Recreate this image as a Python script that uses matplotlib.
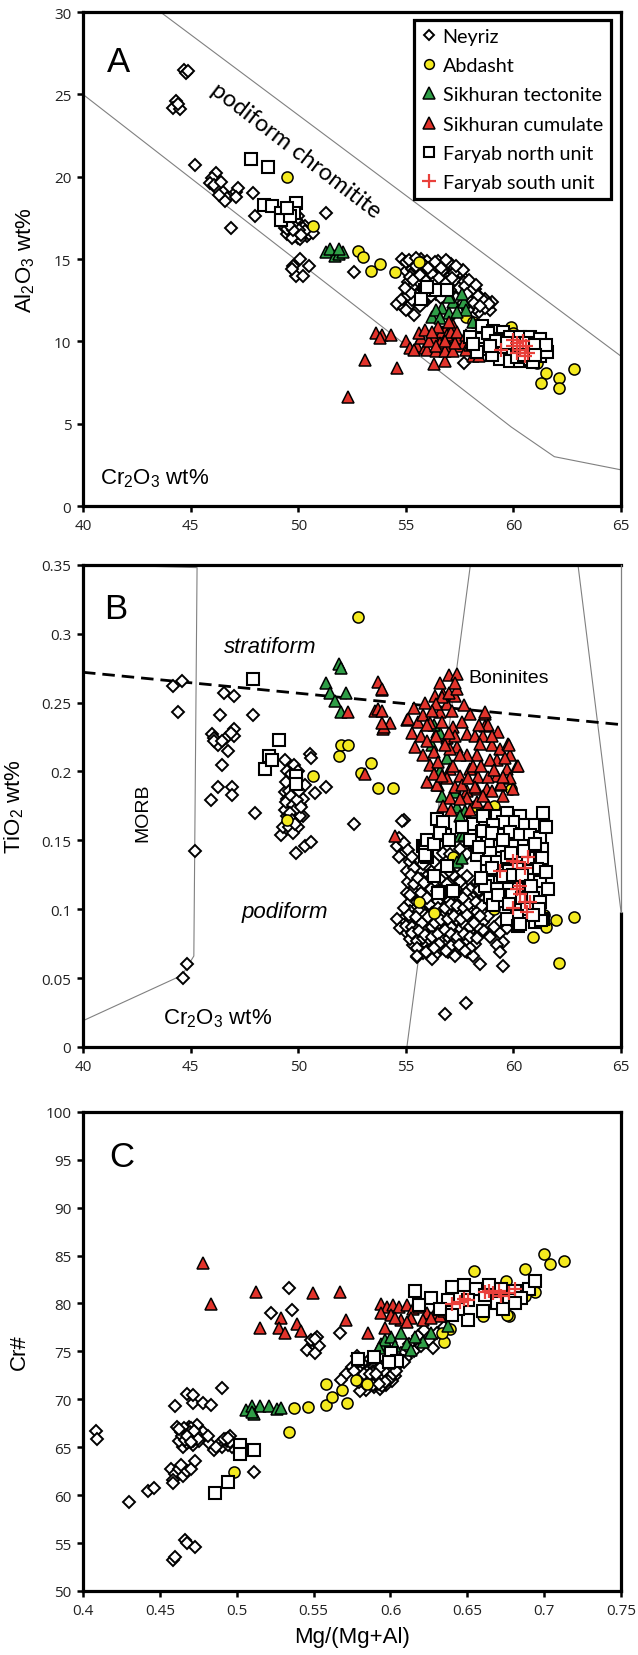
import matplotlib
matplotlib.use("Agg")
import matplotlib.pyplot as plt
from matplotlib.lines import Line2D

# ---------------------------------------------------------------- data
# Panel A: Cr2O3 (wt%) vs Al2O3 (wt%)
A_NEYRIZ = [
    (44.7, 26.5), (44.8, 26.3), (44.9, 26.4), (44.3, 24.6), (44.2, 24.2), (44.5, 24.1), (44.4, 24.4),
    (45.2, 20.7), (46.2, 20.2), (46.0, 19.9), (45.9, 19.6), (46.2, 19.3), (46.5, 19.1), (46.7, 18.7),
    (47.1, 19.1), (47.2, 19.3), (46.6, 18.5), (46.3, 18.9), (47.1, 18.8), (46.1, 19.5), (46.4, 19.7),
    (46.9, 16.9), (47.9, 19.0), (48.0, 17.6),
    (49.3, 17.4), (49.5, 17.2), (49.7, 17.0), (49.9, 16.8), (50.1, 17.1), (49.6, 16.6), (49.8, 16.4),
    (50.0, 16.3), (50.2, 16.6), (49.4, 16.9), (50.3, 17.0), (49.7, 17.5), (50.0, 17.6), (49.5, 16.5),
    (50.4, 16.4), (50.1, 16.2), (50.5, 16.5), (50.7, 16.6), (51.3, 17.8),
    (49.4, 17.2), (49.6, 17.3), (49.8, 17.2), (50.0, 17.0), (49.6, 16.9), (49.8, 16.7), (50.0, 16.6),
    (49.5, 16.8), (50.2, 16.9), (49.9, 17.4), (50.3, 16.7), (49.7, 16.3), (49.65, 17.15),
    (49.85, 16.95), (50.05, 16.75), (49.75, 16.75), (50.15, 16.45), (49.55, 17.05),
    (49.75, 14.6), (49.9, 14.0), (50.1, 15.0), (50.2, 14.0), (50.5, 14.6), (49.7, 14.4), (52.6, 14.2),
    (54.8, 15.0), (55.2, 14.6), (55.5, 14.8), (55.8, 14.5), (56.1, 14.7), (56.4, 14.4), (56.7, 14.6),
    (57.0, 14.3), (55.3, 14.1), (55.6, 13.9), (55.9, 14.2), (56.2, 13.9), (56.5, 14.0), (56.8, 13.8),
    (57.1, 13.6), (57.4, 13.9), (55.1, 13.6), (55.4, 13.4), (56.0, 13.5), (56.6, 13.4), (57.2, 13.2),
    (57.5, 13.3), (57.8, 13.1), (58.1, 12.8), (57.6, 12.7), (58.0, 12.3), (58.3, 12.5), (58.6, 12.2),
    (58.9, 11.9), (59.0, 12.4), (58.4, 11.8), (57.9, 13.5), (56.3, 13.7), (55.0, 14.3), (54.6, 12.3),
    (54.9, 12.0), (55.2, 12.2), (55.4, 11.6), (55.0, 11.9), (56.0, 12.5), (55.5, 12.8), (54.8, 12.6),
    (56.9, 14.1), (57.3, 14.4), (55.7, 15.0), (56.0, 14.9), (56.5, 14.9), (57.6, 14.0), (58.2, 13.2),
    (57.7, 12.2), (55.3, 14.4), (55.7, 14.2), (56.2, 14.3), (56.6, 14.2), (57.0, 13.9), (57.4, 13.5),
    (55.8, 13.8), (56.4, 13.6), (57.1, 13.0), (57.9, 12.6), (58.7, 12.6),
    (55.0, 14.8), (55.4, 14.3), (55.9, 14.6), (56.3, 14.6), (56.7, 14.3), (57.1, 14.7), (55.2, 13.9),
    (55.6, 13.6), (56.1, 13.8), (56.5, 13.7), (57.0, 13.4), (57.3, 13.7), (57.7, 13.6), (58.0, 13.3),
    (57.6, 13.0), (58.3, 12.9), (57.3, 12.9), (58.5, 12.4), (58.7, 12.0), (58.2, 12.0), (57.9, 11.9),
    (56.4, 12.9), (55.8, 12.4), (55.3, 12.5), (55.1, 12.8), (56.9, 13.6), (56.2, 14.1), (55.5, 14.4),
    (57.5, 14.2), (56.8, 12.8),
    (55.15, 14.95), (55.45, 14.55), (55.75, 14.75), (56.05, 14.45), (56.35, 14.85), (56.65, 14.45),
    (56.95, 14.85), (57.25, 14.15), (55.35, 13.75), (55.65, 14.05), (55.95, 13.65), (56.25, 13.55),
    (56.55, 13.85), (56.85, 13.55), (57.15, 13.85), (57.45, 13.25), (57.75, 13.35), (58.05, 13.05),
    (58.35, 12.75), (58.65, 12.45), (58.85, 12.25), (57.85, 12.85), (57.55, 12.45), (58.15, 12.35),
    (58.45, 12.15), (57.35, 12.65), (56.65, 12.65), (56.15, 12.75), (55.65, 12.15), (55.25, 12.95),
    (54.95, 13.25), (55.85, 13.15), (57.05, 13.15), (56.75, 13.15), (57.95, 13.75), (58.25, 13.45),
    (57.65, 14.35), (57.35, 14.55), (56.85, 14.95), (55.45, 15.05), (57.7, 8.7),
]
A_ABDASHT = [
    (49.5, 20.0), (50.7, 17.0), (52.8, 15.5), (53.0, 15.1), (53.4, 14.3), (53.8, 14.7), (54.5, 14.2),
    (55.6, 14.8), (57.8, 11.5), (58.1, 11.2), (59.9, 10.9), (60.0, 10.5), (61.1, 8.7), (61.5, 8.1),
    (62.1, 7.8), (61.3, 7.5), (62.1, 7.2), (62.8, 8.3), (60.5, 10.3), (61.2, 9.9),
]
A_TECTONITE = [
    (51.3, 15.4), (51.7, 15.2), (51.9, 15.3), (52.1, 15.4), (51.5, 15.6), (51.9, 15.6),
    (56.2, 11.5), (56.7, 12.0), (57.2, 12.4), (57.7, 12.4), (57.8, 11.9), (58.1, 11.2), (56.4, 11.9),
    (57.0, 11.7), (57.4, 11.8), (57.6, 12.9), (56.6, 11.4), (57.0, 12.7),
]
A_CUMULATE = [
    (52.3, 6.6), (53.1, 8.9), (54.6, 8.4), (56.3, 8.6), (56.8, 8.8), (53.6, 10.5), (53.9, 10.4),
    (54.3, 10.4), (53.8, 10.2), (55.0, 10.0), (55.5, 9.7), (55.9, 9.6), (55.7, 10.2), (56.3, 10.2),
    (56.7, 10.6), (56.9, 10.9), (57.2, 11.0), (56.6, 9.9), (57.0, 9.7), (57.5, 9.7), (57.4, 10.2),
    (57.7, 9.9), (55.2, 9.6), (55.4, 9.5), (56.0, 9.5), (56.4, 9.4), (56.8, 9.4), (57.2, 9.4),
    (57.8, 9.5), (58.1, 9.1), (58.4, 9.1), (56.9, 10.4), (57.1, 10.6), (56.5, 10.9), (57.0, 11.2),
    (55.6, 10.5), (55.9, 10.7), (56.1, 10.0), (56.4, 9.7), (56.8, 10.0), (57.3, 9.9), (56.2, 10.6),
    (57.4, 10.6), (57.8, 10.4), (58.0, 9.8),
]
A_NORTH = [
    (47.8, 21.1), (48.6, 20.6), (48.4, 18.3), (48.8, 18.2), (49.2, 17.8), (49.9, 18.4), (49.8, 17.8),
    (49.2, 17.4), (49.6, 17.6), (49.5, 18.1), (55.9, 13.1), (56.4, 13.1), (56.9, 13.1), (55.7, 12.6),
    (56.0, 13.3), (58.52, 10.95), (59.07, 10.65), (59.53, 10.55), (58.45, 10.14), (58.91, 10.14),
    (59.38, 10.14), (59.84, 10.24), (60.31, 10.24), (60.77, 10.24), (61.24, 10.14), (58.6, 9.54),
    (59.07, 9.54), (59.53, 9.64), (60.0, 9.54), (60.46, 9.54), (60.93, 9.54), (61.39, 9.54),
    (59.38, 8.93), (59.84, 8.83), (60.31, 8.83), (60.77, 8.93), (61.24, 9.13), (61.55, 9.33),
    (58.29, 9.33), (57.98, 10.24), (58.14, 9.84), (60.15, 9.03), (60.93, 8.73),
    (58.8, 10.5), (59.2, 10.0), (59.7, 9.9), (60.2, 9.9), (60.6, 9.9), (61.0, 9.8), (61.5, 9.8),
    (59.0, 9.2), (60.5, 9.2), (61.0, 9.2), (58.9, 9.7),
]
A_SOUTH = [
    (59.4, 9.5), (60.0, 9.7), (60.15, 9.9), (60.3, 9.5), (60.45, 10.0), (60.6, 9.7), (60.7, 9.3),
    (60.15, 9.3), (60.0, 10.1), (60.55, 9.1),
]

# Panel B: Cr2O3 (wt%) vs TiO2 (wt%)
B_NEYRIZ = [
    (44.2, 0.262), (44.6, 0.266), (44.4, 0.243), (45.2, 0.142), (44.85, 0.060), (44.65, 0.050),
    (46.56, 0.257), (47.03, 0.255), (46.37, 0.241), (47.03, 0.231), (47.89, 0.241), (45.99, 0.227),
    (46.08, 0.224), (46.27, 0.219), (46.65, 0.224), (46.75, 0.215), (47.03, 0.226), (46.46, 0.205),
    (46.27, 0.189), (46.94, 0.189), (45.95, 0.179), (46.94, 0.183), (47.98, 0.170), (46.08, 0.222),
    (46.46, 0.222), (46.9, 0.228),
    (49.4, 0.208), (50.55, 0.213), (50.6, 0.210), (51.3, 0.189), (50.8, 0.184), (50.1, 0.176),
    (50.2, 0.168), (49.2, 0.154), (49.8, 0.158), (49.9, 0.141), (50.3, 0.146), (50.6, 0.149),
    (49.4, 0.185), (49.5, 0.180), (49.6, 0.175), (49.7, 0.170), (49.8, 0.178), (49.9, 0.183),
    (49.5, 0.168), (49.7, 0.188), (49.8, 0.165), (50.0, 0.175), (49.6, 0.192), (49.9, 0.195),
    (49.5, 0.200), (50.1, 0.168), (49.7, 0.160), (50.2, 0.180), (49.4, 0.172), (50.0, 0.160),
    (49.8, 0.205), (50.3, 0.190), (49.3, 0.160),
    (49.45, 0.178), (49.55, 0.186), (49.65, 0.182), (49.75, 0.176), (49.85, 0.172), (49.95, 0.179),
    (49.6, 0.170), (49.7, 0.165), (49.55, 0.160), (49.9, 0.188), (49.8, 0.192), (50.05, 0.186),
    (50.15, 0.174), (49.65, 0.198), (49.45, 0.192), (49.75, 0.155), (50.0, 0.200), (49.85, 0.162),
    (52.6, 0.162), (54.9, 0.165),
    (54.81, 0.164), (54.57, 0.146), (54.88, 0.140), (55.19, 0.134), (55.04, 0.128), (55.35, 0.124),
    (55.66, 0.128), (55.97, 0.124), (56.2, 0.128), (56.74, 0.141), (57.05, 0.140), (57.52, 0.144),
    (57.83, 0.140), (55.35, 0.115), (55.66, 0.117), (55.97, 0.115), (56.28, 0.110), (56.74, 0.115),
    (57.05, 0.120), (57.36, 0.122), (57.67, 0.117), (57.98, 0.115), (58.29, 0.120), (55.19, 0.105),
    (55.5, 0.105), (55.81, 0.105), (56.12, 0.103), (56.9, 0.108), (57.21, 0.110), (57.52, 0.108),
    (57.83, 0.105), (58.14, 0.103), (58.45, 0.110), (58.76, 0.103), (54.88, 0.093), (55.19, 0.093),
    (55.5, 0.091), (55.81, 0.093), (56.12, 0.091), (56.43, 0.093), (56.74, 0.095), (57.05, 0.098),
    (57.36, 0.098), (57.67, 0.095), (57.98, 0.093), (58.29, 0.093), (58.6, 0.091), (54.73, 0.086),
    (55.04, 0.083), (55.35, 0.081), (55.66, 0.081), (55.97, 0.083), (56.28, 0.083), (56.59, 0.086),
    (56.9, 0.083), (57.21, 0.083), (57.52, 0.086), (57.83, 0.083), (58.14, 0.081), (58.45, 0.083),
    (55.35, 0.074), (55.66, 0.071), (55.97, 0.074), (56.43, 0.068), (56.97, 0.069), (57.52, 0.071),
    (57.83, 0.069), (58.14, 0.066), (55.5, 0.065), (59.38, 0.083), (59.53, 0.076), (59.22, 0.074),
    (59.38, 0.069), (59.69, 0.086), (59.38, 0.091), (58.45, 0.060), (59.53, 0.059), (55.04, 0.112),
    (56.43, 0.100), (57.83, 0.124), (54.57, 0.093), (55.8, 0.098), (56.5, 0.106), (57.2, 0.090),
    (58.0, 0.098), (56.0, 0.087), (56.9, 0.077), (57.6, 0.078), (55.2, 0.099), (58.6, 0.085),
    (55.1, 0.120), (55.4, 0.118), (55.7, 0.112), (56.0, 0.108), (56.3, 0.118), (56.6, 0.122),
    (56.9, 0.118), (57.2, 0.125), (57.5, 0.120), (57.8, 0.112), (58.1, 0.108), (58.4, 0.114),
    (58.7, 0.108), (55.2, 0.110), (55.6, 0.099), (55.9, 0.096), (56.2, 0.097), (56.5, 0.101),
    (56.8, 0.101), (57.1, 0.104), (57.4, 0.102), (57.7, 0.101), (58.0, 0.107), (58.3, 0.098),
    (58.6, 0.097), (55.0, 0.088), (55.3, 0.087), (55.6, 0.086), (55.9, 0.088), (56.2, 0.087),
    (56.5, 0.089), (56.8, 0.089), (57.1, 0.087), (57.4, 0.092), (57.7, 0.089), (58.0, 0.087),
    (58.3, 0.088), (55.2, 0.078), (55.5, 0.077), (55.8, 0.079), (56.1, 0.078), (56.4, 0.077),
    (56.7, 0.080), (57.0, 0.079), (57.3, 0.077), (57.6, 0.073), (57.9, 0.077), (58.2, 0.075),
    (56.0, 0.070), (56.6, 0.072), (57.1, 0.073), (55.8, 0.068), (56.2, 0.064), (57.3, 0.066),
    (58.0, 0.072), (54.9, 0.101), (55.4, 0.130), (55.8, 0.133), (56.5, 0.131), (57.0, 0.128),
    (57.4, 0.131), (56.1, 0.121), (55.7, 0.122), (58.8, 0.095), (58.9, 0.080), (59.1, 0.087),
    (54.7, 0.138), (54.7, 0.152), (54.9, 0.148), (55.1, 0.143), (55.3, 0.138), (56.3, 0.134),
    (56.0, 0.138),
    (55.25, 0.125), (55.55, 0.123), (55.85, 0.119), (56.15, 0.115), (56.45, 0.113), (56.75, 0.110),
    (57.05, 0.113), (57.35, 0.115), (57.65, 0.108), (57.95, 0.104), (58.25, 0.105), (58.55, 0.102),
    (55.15, 0.096), (55.45, 0.094), (55.75, 0.090), (56.05, 0.094), (56.35, 0.090), (56.65, 0.092),
    (56.95, 0.093), (57.25, 0.095), (57.55, 0.093), (57.85, 0.096), (58.15, 0.090), (58.45, 0.095),
    (55.3, 0.083), (55.6, 0.084), (55.9, 0.081), (56.2, 0.080), (56.5, 0.082), (56.8, 0.085),
    (57.1, 0.082), (57.4, 0.080), (57.7, 0.082), (58.0, 0.080), (58.3, 0.079), (55.5, 0.072),
    (55.95, 0.069), (56.55, 0.075), (56.85, 0.070), (57.45, 0.074), (57.75, 0.070), (56.3, 0.072),
    (55.5, 0.066), (56.8, 0.024), (57.8, 0.032),
]
B_ABDASHT = [
    (52.8, 0.312), (52.0, 0.219), (52.3, 0.219), (51.9, 0.211), (53.4, 0.206), (52.9, 0.199),
    (53.7, 0.188), (54.4, 0.188), (50.7, 0.197), (49.5, 0.165), (55.6, 0.105), (56.3, 0.097),
    (57.2, 0.138), (58.2, 0.175), (58.7, 0.171), (59.1, 0.175), (59.9, 0.187), (59.1, 0.100),
    (60.0, 0.094), (60.9, 0.080), (62.0, 0.092), (62.8, 0.094), (62.1, 0.061), (61.5, 0.087),
    (61.4, 0.096),
]
B_TECTONITE = [
    (51.9, 0.278), (52.0, 0.275), (51.3, 0.264), (52.2, 0.257), (51.5, 0.257), (51.7, 0.251),
    (52.0, 0.243), (56.45, 0.229), (56.2, 0.219), (56.6, 0.200), (56.7, 0.182), (57.3, 0.185),
    (57.4, 0.174), (57.75, 0.171), (57.5, 0.153), (57.4, 0.134), (57.5, 0.168), (57.6, 0.137),
    (57.7, 0.154), (56.6, 0.228), (56.3, 0.234), (56.9, 0.210), (56.5, 0.190),
]
B_CUMULATE = [
    (53.88, 0.259), (53.57, 0.244), (53.95, 0.231), (54.27, 0.235), (55.04, 0.237), (55.58, 0.236),
    (55.43, 0.218), (55.81, 0.212), (56.12, 0.205), (56.36, 0.255), (56.74, 0.256), (57.29, 0.255),
    (56.9, 0.249), (56.59, 0.243), (57.13, 0.244), (56.12, 0.235), (56.67, 0.236), (57.21, 0.232),
    (57.6, 0.236), (57.83, 0.227), (58.22, 0.226), (58.68, 0.242), (58.68, 0.233), (58.6, 0.226),
    (58.45, 0.220), (58.99, 0.219), (59.3, 0.229), (59.38, 0.216), (59.76, 0.220), (59.84, 0.212),
    (60.15, 0.204), (59.69, 0.202), (59.22, 0.208), (58.91, 0.208), (58.29, 0.212), (57.83, 0.212),
    (57.36, 0.218), (56.9, 0.224), (57.05, 0.216), (57.52, 0.212), (57.98, 0.202), (58.37, 0.196),
    (57.52, 0.197), (57.05, 0.202), (56.9, 0.195), (57.29, 0.189), (57.83, 0.186), (58.29, 0.187),
    (58.76, 0.187), (59.22, 0.197), (59.38, 0.190), (59.84, 0.195), (60.0, 0.187), (58.83, 0.176),
    (58.29, 0.178), (57.83, 0.181), (57.05, 0.181), (56.74, 0.175), (56.43, 0.190), (55.97, 0.192),
    (53.1, 0.198), (54.5, 0.153), (57.0, 0.270), (57.4, 0.271), (56.7, 0.254), (57.0, 0.257),
    (57.4, 0.260), (56.4, 0.249), (55.1, 0.238), (55.8, 0.241), (56.0, 0.234), (58.7, 0.243),
    (59.8, 0.219), (60.2, 0.204), (59.4, 0.191), (58.8, 0.234), (53.7, 0.265), (53.9, 0.260),
    (52.3, 0.243), (53.7, 0.245), (53.9, 0.244), (54.0, 0.232), (53.9, 0.235),
    (55.3, 0.228), (55.7, 0.226), (56.0, 0.222), (56.3, 0.214), (56.5, 0.207), (56.3, 0.198),
    (56.7, 0.197), (57.2, 0.204), (57.6, 0.190), (57.9, 0.195), (58.1, 0.204), (58.5, 0.204),
    (58.8, 0.196), (59.1, 0.201), (59.5, 0.196), (59.6, 0.210), (59.0, 0.226), (58.4, 0.234),
    (58.0, 0.242), (57.7, 0.248), (57.3, 0.226), (57.0, 0.228), (56.8, 0.219), (56.4, 0.226),
    (58.2, 0.189), (58.6, 0.182), (59.0, 0.186), (59.5, 0.182), (57.5, 0.180), (57.1, 0.172),
    (58.0, 0.172), (56.2, 0.244), (55.9, 0.250), (55.4, 0.246), (56.6, 0.264), (57.3, 0.264),
]
B_NORTH = [
    (47.9, 0.267), (49.1, 0.223), (48.65, 0.211), (48.45, 0.202), (48.8, 0.208), (49.9, 0.197),
    (49.9, 0.191), (56.43, 0.1656), (56.82, 0.1535), (55.81, 0.1462), (55.97, 0.1378), (56.59, 0.1124),
    (58.14, 0.162), (58.6, 0.168), (59.22, 0.168), (59.69, 0.170), (60.31, 0.168), (61.39, 0.170),
    (60.93, 0.161), (60.46, 0.161), (60.0, 0.163), (59.53, 0.163), (59.07, 0.161), (58.52, 0.156),
    (58.21, 0.149), (58.83, 0.149), (59.38, 0.154), (59.84, 0.156), (60.31, 0.154), (60.77, 0.154),
    (61.24, 0.152), (61.31, 0.144), (60.85, 0.144), (60.38, 0.146), (59.92, 0.146), (59.38, 0.146),
    (58.91, 0.141), (58.29, 0.139), (58.76, 0.134), (59.22, 0.134), (59.69, 0.138), (60.23, 0.139),
    (60.69, 0.137), (61.31, 0.137), (61.08, 0.129), (60.62, 0.128), (60.15, 0.129), (59.69, 0.128),
    (59.22, 0.126), (58.76, 0.128), (58.91, 0.120), (59.38, 0.120), (59.84, 0.121), (60.38, 0.120),
    (60.85, 0.121), (61.24, 0.120), (61.08, 0.112), (60.62, 0.112), (60.15, 0.115), (59.69, 0.115),
    (59.22, 0.115), (58.91, 0.109), (59.45, 0.106), (59.92, 0.110), (60.38, 0.108), (60.93, 0.108),
    (61.24, 0.105), (59.07, 0.103), (60.62, 0.100), (60.15, 0.095), (59.69, 0.093), (60.23, 0.088),
    (61.0, 0.091), (61.39, 0.093), (56.74, 0.163), (56.5, 0.112), (55.9, 0.145), (55.9, 0.139),
    (61.3, 0.092), (60.3, 0.089),
    (56.0, 0.150), (56.3, 0.147), (56.6, 0.155), (57.0, 0.150), (56.9, 0.131), (56.3, 0.124),
    (57.2, 0.113), (57.6, 0.160), (58.0, 0.150), (58.4, 0.145), (58.6, 0.157), (59.0, 0.155),
    (59.5, 0.150), (59.9, 0.141), (60.5, 0.142), (61.0, 0.147), (61.5, 0.160), (61.5, 0.127),
    (61.2, 0.100), (59.0, 0.130), (59.5, 0.124), (60.0, 0.125), (60.4, 0.125), (60.8, 0.117),
    (59.3, 0.110), (59.8, 0.104), (60.9, 0.096), (58.7, 0.117), (58.5, 0.123), (61.6, 0.115),
]
B_SOUTH = [
    (59.38, 0.128), (60.0, 0.135), (60.15, 0.134), (60.54, 0.130), (60.69, 0.138), (60.15, 0.115),
    (60.31, 0.111), (60.54, 0.105), (60.77, 0.105), (60.0, 0.101), (60.62, 0.098), (60.31, 0.117),
]

# Panel C: Mg/(Mg+Al) vs Cr#
C_NEYRIZ = [
    (0.4085, 66.65), (0.4093, 65.89), (0.430, 59.3), (0.4424, 60.45), (0.4464, 60.76), (0.4583, 53.18),
    (0.4597, 53.56), (0.4663, 55.28), (0.4676, 55.02), (0.4729, 54.63), (0.4597, 69.26), (0.4676, 70.6),
    (0.4716, 69.64), (0.4782, 69.64), (0.4902, 71.17), (0.4835, 69.45), (0.4716, 70.41),
    (0.461, 67.15), (0.4636, 66.58), (0.465, 65.05), (0.4676, 66.0), (0.4703, 66.39), (0.4729, 66.77),
    (0.4756, 66.19), (0.4782, 66.58), (0.4676, 65.43), (0.4716, 65.24), (0.4743, 67.34), (0.4623, 65.62),
    (0.4663, 66.58), (0.4703, 65.81), (0.4756, 65.62), (0.469, 67.15), (0.4724, 66.0), (0.4684, 66.77),
    (0.4645, 66.2), (0.4665, 65.8), (0.4695, 66.0), (0.4705, 67.0), (0.4735, 66.4), (0.4655, 67.0),
    (0.4715, 65.6), (0.4685, 66.4), (0.4745, 65.9), (0.4625, 66.9), (0.4695, 66.6), (0.4725, 66.7),
    (0.4675, 66.2), (0.4705, 65.5),
    (0.457, 62.75), (0.4597, 62.17), (0.4623, 62.75), (0.465, 61.98), (0.4676, 62.56), (0.4703, 62.75),
    (0.4729, 63.51), (0.4583, 61.6), (0.4636, 63.13), (0.4583, 61.22), (0.4822, 65.43), (0.4849, 64.66),
    (0.4888, 65.43), (0.4928, 65.81), (0.4955, 66.19), (0.4968, 65.05), (0.4902, 65.05), (0.4862, 65.05),
    (0.4941, 65.24), (0.481, 66.2), (0.4935, 65.6), (0.4955, 65.5), (0.4915, 65.9), (0.4945, 66.0),
    (0.5114, 62.44),
    (0.5339, 81.59), (0.536, 79.29), (0.522, 79.02), (0.5671, 76.91), (0.5458, 75.19), (0.5498, 75.77),
    (0.5525, 76.53), (0.5538, 75.57), (0.5512, 74.81), (0.5485, 76.15), (0.5512, 76.3),
    (0.580, 72.8), (0.585, 72.2), (0.588, 71.8), (0.590, 72.5), (0.592, 73.0), (0.594, 72.0),
    (0.596, 72.6), (0.598, 71.9), (0.600, 72.8), (0.586, 73.3), (0.583, 71.5), (0.595, 73.5),
    (0.602, 73.2), (0.589, 71.3), (0.597, 71.5), (0.591, 73.8), (0.587, 74.2), (0.599, 74.0),
    (0.605, 73.6), (0.603, 72.4), (0.578, 74.5), (0.575, 73.4), (0.571, 72.6), (0.568, 72.0),
    (0.584, 71.0), (0.610, 74.3), (0.615, 75.0), (0.620, 75.6), (0.625, 76.2), (0.612, 75.8),
    (0.618, 76.6), (0.630, 76.9), (0.622, 77.2), (0.607, 74.8), (0.635, 77.5), (0.628, 75.4),
    (0.580, 70.9), (0.593, 71.1),
    (0.5855, 72.9), (0.5875, 72.4), (0.5905, 71.9), (0.5925, 72.3), (0.5935, 72.8), (0.5955, 72.2),
    (0.5965, 73.1), (0.5985, 72.4), (0.5895, 73.4), (0.5915, 71.6), (0.5845, 71.9), (0.5995, 73.4),
    (0.5815, 72.3), (0.5945, 71.4), (0.601, 71.9),
    (0.5825, 72.6), (0.5865, 71.6), (0.5885, 72.9), (0.5905, 73.1), (0.5915, 72.1), (0.5945, 72.6),
    (0.5955, 73.0), (0.5975, 72.0), (0.5995, 72.1), (0.5885, 71.5), (0.5935, 73.3), (0.5865, 72.6),
    (0.5965, 71.8), (0.5925, 71.6), (0.5905, 72.6), (0.6015, 72.6), (0.6035, 73.0), (0.6025, 73.8),
    (0.6065, 74.2), (0.6085, 73.9), (0.5795, 71.8), (0.5765, 72.9),
]
C_ABDASHT = [
    (0.5339, 66.58), (0.4981, 62.37), (0.5371, 69.07), (0.5466, 69.18), (0.5578, 69.45), (0.5578, 71.55),
    (0.5618, 70.21), (0.5684, 70.98), (0.5718, 69.64), (0.5777, 72.01), (0.5848, 71.55), (0.6347, 75.96),
    (0.6387, 77.3), (0.6334, 76.91), (0.6546, 83.42), (0.675, 82.35), (0.6877, 83.61), (0.6997, 85.15),
    (0.7036, 84.11), (0.7129, 84.46), (0.6771, 78.64), (0.6758, 78.83), (0.6943, 81.2), (0.6877, 80.82),
    (0.6599, 78.64),
]
C_TECTONITE = [
    (0.5061, 68.87), (0.5100, 69.26), (0.5153, 69.26), (0.5207, 69.26), (0.526, 68.95), (0.5286, 69.07),
    (0.5114, 68.49), (0.5100, 68.7), (0.5936, 75.77), (0.5962, 76.15), (0.6002, 76.53), (0.6068, 76.91),
    (0.6108, 75.77), (0.6135, 75.19), (0.6214, 75.96), (0.6373, 77.7), (0.5923, 75.38), (0.6029, 75.57),
    (0.6161, 76.53), (0.6267, 76.91),
]
C_CUMULATE = [
    (0.4782, 84.19), (0.4835, 79.9), (0.5127, 81.2), (0.5153, 77.49), (0.5286, 78.45), (0.5273, 77.49),
    (0.5313, 76.91), (0.5392, 77.87), (0.5419, 77.11), (0.5498, 81.13), (0.5671, 81.2), (0.571, 78.25),
    (0.5856, 76.91), (0.5962, 77.49), (0.5936, 79.98), (0.5976, 79.6), (0.6015, 79.79), (0.6055, 79.6),
    (0.6108, 79.79), (0.6148, 79.4), (0.6188, 79.6), (0.6241, 79.02), (0.6281, 78.83), (0.632, 78.64),
    (0.5936, 79.02), (0.6002, 78.83), (0.6068, 78.25), (0.6135, 78.45), (0.6214, 78.25), (0.6267, 78.45),
    (0.6347, 79.21), (0.6108, 78.06), (0.6029, 78.45),
]
C_NORTH = [
    (0.4857, 60.26), (0.4941, 61.41), (0.5021, 65.24), (0.5021, 64.28), (0.5114, 64.66), (0.579, 74.23),
    (0.5896, 74.43), (0.6002, 74.81), (0.6042, 74.04), (0.5989, 73.85), (0.6161, 81.32), (0.6267, 80.55),
    (0.6188, 79.79), (0.6373, 80.36), (0.640, 81.7), (0.6479, 81.9), (0.6559, 81.5), (0.6639, 81.9),
    (0.6718, 81.5), (0.6811, 81.3), (0.6904, 81.5), (0.6943, 82.3), (0.6506, 80.4), (0.6599, 79.2),
    (0.6506, 78.3), (0.644, 79.4), (0.6692, 80.0), (0.6771, 80.4), (0.6851, 80.6), (0.632, 79.4),
    (0.640, 78.8), (0.6612, 80.9), (0.673, 79.4), (0.6811, 80.0),
]
C_SOUTH = [
    (0.640, 79.98), (0.6453, 80.17), (0.6506, 80.36), (0.6479, 80.44), (0.6612, 81.2), (0.6639, 81.32),
    (0.6665, 81.13), (0.6705, 81.32), (0.6718, 80.74), (0.6771, 81.13), (0.6811, 81.51),
]

# field boundaries
A_UPPER_LINE = [(43.6, 30.0), (65.0, 9.1)]
A_LOWER_LINE = [(40.0, 25.0), (59.9, 4.8), (61.9, 3.0), (65.0, 2.2)]
B_MORB_FIELD = [(43.0, 0.349), (45.3, 0.348), (45.15, 0.066), (44.6, 0.052), (40.0, 0.019)]
B_BONINITE_LEFT = [(58.0, 0.35), (55.05, 0.0)]
B_BONINITE_RIGHT = [(63.0, 0.35), (65.0, 0.098)]
B_DIVIDE = [(40.0, 0.272), (65.0, 0.234)]

SERIES = ["Neyriz", "Abdasht", "Sikhuran tectonite", "Sikhuran cumulate",
          "Faryab north unit", "Faryab south unit"]

# ---------------------------------------------------------------- style
plt.rcParams["mathtext.fontset"] = "custom"
plt.rcParams["mathtext.rm"] = "Liberation Sans"
plt.rcParams["mathtext.it"] = "Liberation Sans:italic"
plt.rcParams["mathtext.default"] = "regular"

YELLOW = "#f4ea1f"
GREEN = "#2f9e47"
RED = "#e2332b"
CROSS = "#e9403b"
GUIDE = "#808080"

STYLE = {
    "Neyriz": dict(marker="D", ms=6.0, mfc="white", mec="black", mew=1.4),
    "Abdasht": dict(marker="o", ms=8.0, mfc=YELLOW, mec="black", mew=1.1),
    "Sikhuran tectonite": dict(marker="^", ms=9.0, mfc=GREEN, mec="black", mew=1.1),
    "Sikhuran cumulate": dict(marker="^", ms=9.0, mfc=RED, mec="black", mew=1.1),
    "Faryab north unit": dict(marker="s", ms=8.0, mfc="white", mec="black", mew=1.5),
    "Faryab south unit": dict(marker="+", ms=10.0, mec=CROSS, mew=1.6),
}
LEGEND_MS = {"Neyriz": 5.5, "Abdasht": 7.0, "Sikhuran tectonite": 8.0,
             "Sikhuran cumulate": 8.0, "Faryab north unit": 7.5, "Faryab south unit": 10.0}

TICK_FONT = "Open Sans"
LABEL_FONT = "Liberation Sans"
SPINE_W = 2.3


def scatter_series(ax, groups):
    for name, pts in zip(SERIES, groups):
        xs = [p[0] for p in pts]
        ys = [p[1] for p in pts]
        ax.plot(xs, ys, linestyle="none", **STYLE[name])


def polyline(ax, pts, **kw):
    ax.plot([p[0] for p in pts], [p[1] for p in pts], **kw)


def frame(ax, xlim, ylim, xticks, yticks):
    ax.set_xlim(*xlim)
    ax.set_ylim(*ylim)
    ax.set_xticks(xticks)
    ax.set_yticks(yticks)
    ax.set_xticklabels(["{:g}".format(v) for v in xticks])
    ax.set_yticklabels(["{:g}".format(v) for v in yticks])
    for s in ax.spines.values():
        s.set_linewidth(SPINE_W)
    ax.tick_params(direction="out", length=4.5, width=1.8, labelsize=11, pad=4,
                   top=False, right=False)
    for lab in ax.get_xticklabels() + ax.get_yticklabels():
        lab.set_family(TICK_FONT)
        lab.set_color("#222222")


fig = plt.figure(figsize=(6.38, 16.56), dpi=100)
axA = fig.add_axes([0.1301, 0.6938, 0.8433, 0.2983])
axB = fig.add_axes([0.1301, 0.3672, 0.8433, 0.2911])
axC = fig.add_axes([0.1301, 0.0387, 0.8433, 0.2893])

# ---------------------------------------------------------------- panel A
polyline(axA, A_UPPER_LINE, color=GUIDE, lw=0.8, zorder=1)
polyline(axA, A_LOWER_LINE, color=GUIDE, lw=0.8, zorder=1)
scatter_series(axA, [A_NEYRIZ, A_ABDASHT, A_TECTONITE, A_CUMULATE, A_NORTH, A_SOUTH])
frame(axA, (40, 65), (0, 30), [40, 45, 50, 55, 60, 65], [0, 5, 10, 15, 20, 25, 30])
axA.set_ylabel("Al$_2$O$_3$ wt%", family=LABEL_FONT, fontsize=16)
axA.yaxis.set_label_coords(-0.086, 0.5)
axA.text(41.1, 27.0, "A", family=LABEL_FONT, fontsize=25, va="center", ha="left")
axA.text(49.9, 21.6, "podiform chromitite", family="Lato", fontsize=17, rotation=-37.5,
         rotation_mode="anchor", ha="center", va="center")
axA.text(40.8, 1.7, "Cr$_2$O$_3$ wt%", family=LABEL_FONT, fontsize=16, ha="left", va="center")

handles = []
for name in SERIES:
    st = dict(STYLE[name])
    st["ms"] = LEGEND_MS[name]
    handles.append(Line2D([], [], linestyle="none", **st))
leg = axA.legend(handles, SERIES, loc="upper right", bbox_to_anchor=(0.981, 0.984),
                 frameon=True, fancybox=False, edgecolor="black", framealpha=1,
                 prop=dict(family="Lato", size=14.2), handlelength=0.7, handletextpad=0.35,
                 labelspacing=0.62, borderpad=0.4, borderaxespad=0.0)
leg.get_frame().set_linewidth(2.3)

# ---------------------------------------------------------------- panel B
polyline(axB, B_MORB_FIELD, color=GUIDE, lw=0.8, zorder=1)
polyline(axB, B_BONINITE_LEFT, color=GUIDE, lw=0.8, zorder=1)
polyline(axB, B_BONINITE_RIGHT, color=GUIDE, lw=0.8, zorder=1)
polyline(axB, B_DIVIDE, color="black", lw=2.0, ls=(0, (4.5, 2.5)), zorder=1)
scatter_series(axB, [B_NEYRIZ, B_ABDASHT, B_TECTONITE, B_CUMULATE, B_NORTH, B_SOUTH])
frame(axB, (40, 65), (0, 0.35), [40, 45, 50, 55, 60, 65],
      [0, 0.05, 0.1, 0.15, 0.2, 0.25, 0.3, 0.35])
axB.spines["right"].set_visible(False)
axB.plot([65, 65], [0, B_BONINITE_RIGHT[1][1]], color="black", lw=SPINE_W,
         clip_on=False, solid_capstyle="butt", zorder=5)
axB.plot([65, 65], [B_BONINITE_RIGHT[1][1], 0.35], color=GUIDE, lw=0.9, clip_on=False, zorder=5)
axB.set_ylabel("TiO$_2$ wt%", family=LABEL_FONT, fontsize=16)
axB.yaxis.set_label_coords(-0.106, 0.5)
axB.text(41.0, 0.318, "B", family=LABEL_FONT, fontsize=25, va="center", ha="left")
axB.text(48.7, 0.291, "stratiform", family=LABEL_FONT, style="italic", fontsize=16,
         ha="center", va="center")
axB.text(59.8, 0.268, "Boninites", family=LABEL_FONT, fontsize=14, ha="center", va="center")
axB.text(42.8, 0.171, "MORB", family=LABEL_FONT, fontsize=14, rotation=90,
         ha="center", va="center")
axB.text(49.4, 0.098, "podiform", family=LABEL_FONT, style="italic", fontsize=16,
         ha="center", va="center")
axB.text(43.7, 0.021, "Cr$_2$O$_3$ wt%", family=LABEL_FONT, fontsize=16, ha="left", va="center")

# ---------------------------------------------------------------- panel C
scatter_series(axC, [C_NEYRIZ, C_ABDASHT, C_TECTONITE, C_CUMULATE, C_NORTH, C_SOUTH])
frame(axC, (0.4, 0.75), (50, 100), [0.4, 0.45, 0.5, 0.55, 0.6, 0.65, 0.7, 0.75],
      [50, 55, 60, 65, 70, 75, 80, 85, 90, 95, 100])
axC.set_ylabel("Cr#", family=LABEL_FONT, fontsize=16)
axC.yaxis.set_label_coords(-0.098, 0.5)
axC.set_xlabel("Mg/(Mg+Al)", family=LABEL_FONT, fontsize=16, labelpad=6)
axC.text(0.417, 95.3, "C", family=LABEL_FONT, fontsize=25, va="center", ha="left")

fig.savefig("out.png", dpi=100)
